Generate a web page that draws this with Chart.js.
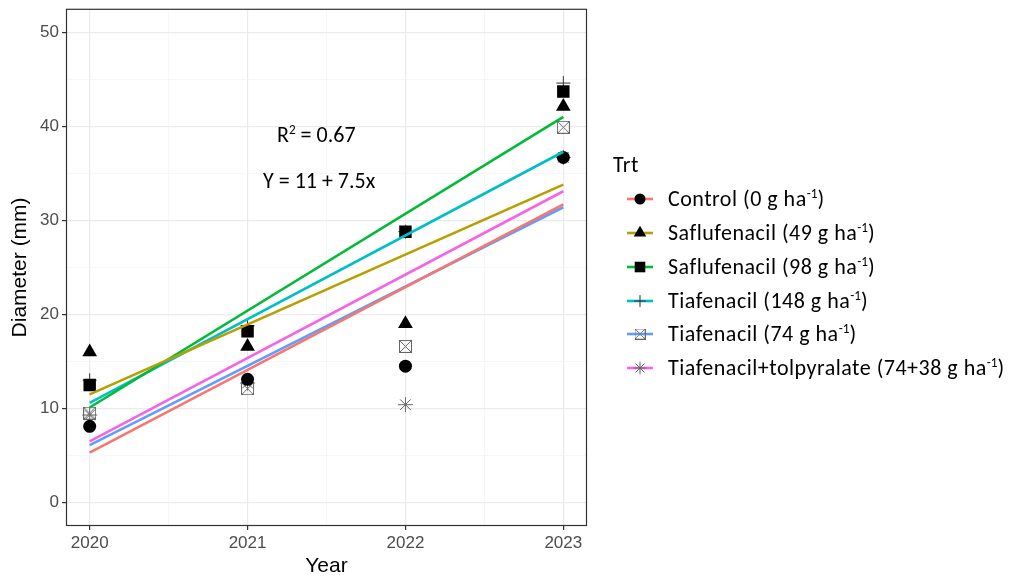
<!DOCTYPE html>
<html>
<head>
<meta charset="utf-8">
<script src="https://cdn.jsdelivr.net/npm/chart.js@4/dist/chart.umd.min.js"></script>
<style>
  html, body { margin: 0; padding: 0; background: #fff; }
  #wrap { position: relative; width: 1015px; height: 583px; overflow: hidden; }
  #c { position: absolute; left: 0; top: 0; }
  .txt { position: absolute; font-family: Carlito, Lato, "Open Sans", sans-serif; color: #000; white-space: nowrap; }
  .ann { font-size: 22px; line-height: 24px; }
  .leg { font-size: 22px; line-height: 24px; letter-spacing: 0.5px; }
  sup { font-size: 0.6em; vertical-align: 0.6em; line-height: 0; letter-spacing: 0; }
  .key { position: absolute; }
</style>
</head>
<body>
<div id="wrap">
  <canvas id="c" width="1015" height="583"></canvas>
</div>
<script>
// ---- data ----
const years = [2020, 2021, 2022, 2023];
const treatments = [
  'Control (0 g ha<sup>-1</sup>)',
  'Saflufenacil (49 g ha<sup>-1</sup>)',
  'Saflufenacil (98 g ha<sup>-1</sup>)',
  'Tiafenacil (148 g ha<sup>-1</sup>)',
  'Tiafenacil (74 g ha<sup>-1</sup>)',
  'Tiafenacil+tolpyralate (74+38 g ha<sup>-1</sup>)'
];
// observed means (points)
const control  = [8.1, 13.1, 14.5, 36.7];
const saf49    = [16.0, 16.6, 19.0, 42.1];
const saf98    = [12.5, 18.2, 28.8, 43.7];
const tia148   = [13.0, 18.8, 28.8, 44.6];
const tia74    = [9.5, 12.1, 16.6, 39.9];
const tiaTol   = [9.3, 12.7, 10.4, 36.7];
// fitted lines (values at first and last year)
const fitYears   = [2020, 2023];
const fitControl = [5.3, 31.7];
const fitSaf49   = [11.5, 33.8];
const fitSaf98   = [10.1, 41.0];
const fitTia148  = [10.6, 37.3];
const fitTia74   = [6.1, 31.4];
const fitTiaTol  = [6.5, 33.1];
// axis ticks
const yTicks = [0, 5, 10, 15, 20, 25, 30, 35, 40, 45, 50];
const xTicks = [2020, 2020.5, 2021, 2021.5, 2022, 2022.5, 2023];
const annR2 = '0.67';
const annEq = 'Y = 11 + 7.5x';

// ---- styles ----
const colors = ['#F8766D', '#B79F00', '#00BA38', '#00BFC4', '#619CFF', '#F564E3'];
const pointSeries = [control, saf49, saf98, tia148, tia74, tiaTol];
const fitSeries = [fitControl, fitSaf49, fitSaf98, fitTia148, fitTia74, fitTiaTol];

function boxedX(size, color) {
  const cv = document.createElement('canvas');
  cv.width = size; cv.height = size;
  const g = cv.getContext('2d');
  g.strokeStyle = color; g.lineWidth = 1;
  g.strokeRect(0.5, 0.5, size - 1, size - 1);
  g.beginPath();
  g.moveTo(0.5, 0.5); g.lineTo(size - 0.5, size - 0.5);
  g.moveTo(size - 0.5, 0.5); g.lineTo(0.5, size - 0.5);
  g.stroke();
  return cv;
}
const boxImg = boxedX(13, '#666');

const markerStyles = [
  {pointStyle: 'circle', radius: 6.5, bg: '#000', bc: '#000', bw: 0},
  {pointStyle: 'triangle', radius: 8.5, bg: '#000', bc: '#000', bw: 0},
  {pointStyle: 'rect', radius: 8.8, bg: '#000', bc: '#000', bw: 0},
  {pointStyle: 'cross', radius: 7, bg: '#333', bc: '#333', bw: 1},
  {pointStyle: boxImg, radius: 6.5, bg: '#666', bc: '#666', bw: 1},
  {pointStyle: 'star', radius: 7.5, bg: '#666', bc: '#666', bw: 1}
];

const datasets = [];
// fitted lines first (drawn on top)
fitSeries.forEach((f, i) => {
  datasets.push({
    data: fitYears.map((x, k) => ({x: x, y: f[k]})),
    showLine: true, borderColor: colors[i], borderWidth: 2.6,
    pointRadius: 0, fill: false, order: 0
  });
});
pointSeries.forEach((s, i) => {
  const m = markerStyles[i];
  datasets.push({
    data: years.map((x, k) => ({x: x, y: s[k]})),
    showLine: false, pointStyle: m.pointStyle, pointRadius: m.radius,
    pointBackgroundColor: m.bg, pointBorderColor: m.bc, pointBorderWidth: m.bw,
    order: 1
  });
});

const framePlugin = {
  id: 'frame',
  afterDraw(chart) {
    const a = chart.chartArea, c = chart.ctx;
    c.save();
    c.strokeStyle = '#333'; c.lineWidth = 1.2;
    c.strokeRect(a.left + 0.5, a.top + 0.5, a.right - a.left - 1, a.bottom - a.top - 1);
    c.restore();
  }
};

const isMinorY = v => v % 10 !== 0;
const isMinorX = v => !Number.isInteger(v);
const tickFont = { family: '"Liberation Sans", Arial, sans-serif', size: 17 };
const titleFont = { family: '"Liberation Sans", Arial, sans-serif', size: 21 };

new Chart(document.getElementById('c'), {
  type: 'scatter',
  data: { datasets },
  plugins: [framePlugin],
  options: {
    responsive: false, animation: false, devicePixelRatio: 1,
    layout: { padding: { left: 0, top: 8, right: 428, bottom: 0 } },
    plugins: { legend: { display: false }, tooltip: { enabled: false } },
    scales: {
      x: {
        type: 'linear', min: 2019.85, max: 2023.15,
        afterBuildTicks(s) { s.ticks = xTicks.map(v => ({value: v})); },
        afterFit(s) { s.height = 57; s.paddingLeft = 0; s.paddingRight = 0; },
        border: { display: false },
        grid: {
          color: c => isMinorX(c.tick.value) ? '#F4F4F4' : '#EBEBEB',
          lineWidth: c => isMinorX(c.tick.value) ? 0.7 : 1.2,
          tickColor: c => isMinorX(c.tick.value) ? 'rgba(0,0,0,0)' : '#333',
          tickLength: 4, drawTicks: true
        },
        ticks: {
          autoSkip: false, maxRotation: 0, padding: 3, color: '#4D4D4D',
          font: tickFont,
          callback: v => isMinorX(v) ? '' : String(v)
        },
        title: {
          display: true, text: 'Year', color: '#000', font: titleFont,
          padding: { top: 0, bottom: 4 }
        }
      },
      y: {
        type: 'linear', min: -2.5, max: 52.5,
        afterBuildTicks(s) { s.ticks = yTicks.map(v => ({value: v})); },
        afterFit(s) { s.width = 66; s.paddingTop = 0; s.paddingBottom = 0; },
        border: { display: false },
        grid: {
          color: c => isMinorY(c.tick.value) ? '#F4F4F4' : '#EBEBEB',
          lineWidth: c => isMinorY(c.tick.value) ? 0.7 : 1.2,
          tickColor: c => isMinorY(c.tick.value) ? 'rgba(0,0,0,0)' : '#333',
          tickLength: 4, drawTicks: true
        },
        ticks: {
          autoSkip: false, padding: 3, color: '#4D4D4D',
          font: tickFont,
          callback: v => isMinorY(v) ? '' : String(v)
        },
        title: {
          display: true, text: 'Diameter (mm)', color: '#000', font: titleFont,
          padding: { top: 8, bottom: 0 }
        }
      }
    }
  }
});

// ---- annotations and legend (text) ----
const wrap = document.getElementById('wrap');
function addText(html, cls, left, top) {
  const d = document.createElement('div');
  d.className = 'txt ' + cls;
  d.innerHTML = html;
  d.style.left = left + 'px'; d.style.top = top + 'px';
  wrap.appendChild(d);
  return d;
}
addText('R<sup>2</sup> = ' + annR2, 'ann', 277, 123);
addText(annEq, 'ann', 263, 169);
addText('Trt', 'leg', 613, 153);

function drawMarker(g, i, x, y) {
  const m = markerStyles[i];
  g.fillStyle = m.bg; g.strokeStyle = m.bc; g.lineWidth = 1;
  const r = m.radius * 0.85;
  if (i === 0) { g.beginPath(); g.arc(x, y, r, 0, Math.PI * 2); g.fill(); }
  else if (i === 1) {
    g.beginPath();
    g.moveTo(x, y - r); g.lineTo(x + r * 0.866, y + r * 0.5); g.lineTo(x - r * 0.866, y + r * 0.5);
    g.closePath(); g.fill();
  } else if (i === 2) { const s = r * Math.SQRT1_2; g.fillRect(x - s, y - s, 2 * s, 2 * s); }
  else if (i === 3) { g.beginPath(); g.moveTo(x - r, y); g.lineTo(x + r, y); g.moveTo(x, y - r); g.lineTo(x, y + r); g.stroke(); }
  else if (i === 4) { g.drawImage(boxImg, x - 5.5, y - 5.5, 11, 11); }
  else {
    g.beginPath();
    for (let k = 0; k < 4; k++) {
      const a = k * Math.PI / 4;
      g.moveTo(x - r * Math.cos(a), y - r * Math.sin(a));
      g.lineTo(x + r * Math.cos(a), y + r * Math.sin(a));
    }
    g.stroke();
  }
}
const legY = [199, 233, 267, 300.5, 334, 367.5];
treatments.forEach((t, i) => {
  const cv = document.createElement('canvas');
  cv.width = 34; cv.height = 24; cv.className = 'key';
  cv.style.left = (640 - 17) + 'px'; cv.style.top = (legY[i] - 12) + 'px';
  const g = cv.getContext('2d');
  g.strokeStyle = colors[i]; g.lineWidth = 2.6;
  g.beginPath(); g.moveTo(4, 12); g.lineTo(30, 12); g.stroke();
  drawMarker(g, i, 17, 12);
  wrap.appendChild(cv);
  addText(t, 'leg', 668, legY[i] - 12);
});
</script>
</body>
</html>
